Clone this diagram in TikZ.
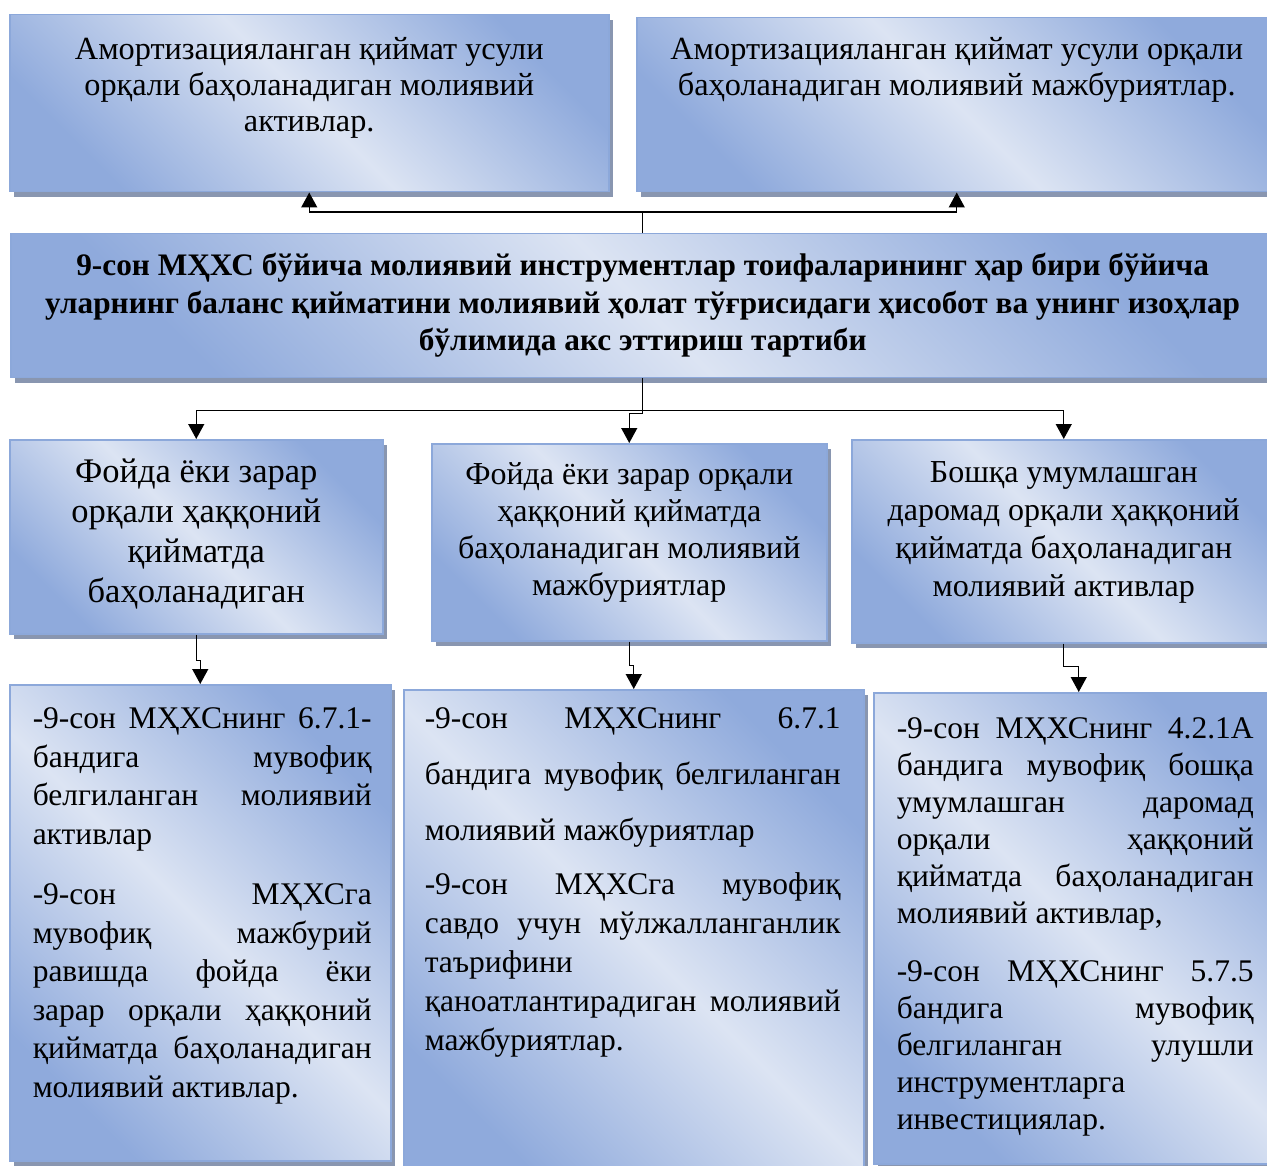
\documentclass[tikz,border=0pt]{standalone}
\usepackage{fontspec}
\setmainfont{Liberation Serif}
\usetikzlibrary{arrows.meta,positioning,shadows,calc}
\definecolor{boxdark}{RGB}{143,170,220}
\definecolor{boxlight}{RGB}{220,228,243}
\definecolor{boxedge}{RGB}{140,168,218}
\definecolor{shadowgray}{RGB}{137,150,176}
\newcommand{\boxbody}[3]{\begin{minipage}[t][#1][t]{#2}#3\end{minipage}}

\begin{document}
\begin{tikzpicture}[x=1pt,y=1pt]
    \tikzstyle{cbox}=[rectangle,draw=boxedge,line width=1.5pt,inner sep=0pt,%
    anchor=north west,top color=boxdark,bottom color=boxdark,%
    middle color=boxlight,shading angle=-45,%
    drop shadow={shadow xshift=4pt,shadow yshift=-5pt,fill=shadowgray,opacity=1}] %
    \tikzstyle{arr}=[-{Triangle[width=16pt,length=15pt]},line width=1.3pt] %
    \tikzstyle{jtext}=[font=\fontsize{31.5pt}{38.5pt}\selectfont] %

    \useasboundingbox (0,0) rectangle (1267,-1166);

    \node[cbox,font=\fontsize{32.3pt}{36pt}\selectfont] (amAsset) at (9,-14)
      {\boxbody{177pt}{599pt}{\centering\vspace*{19.8pt}\strut
        Амортизацияланган қиймат усули\\орқали баҳоланадиган молиявий\\активлар.}};
    \node[cbox,font=\fontsize{32.3pt}{36pt}\selectfont] (amLiab) at (636,-17)
      {\boxbody{174pt}{640pt}{\centering\vspace*{16.8pt}\strut
        Амортизацияланган қиймат усули орқали\\баҳоланадиган молиявий мажбуриятлар.}};

    \node[cbox,font=\fontsize{31.3pt}{37.5pt}\selectfont\bfseries] (bal) at (10,-233)
      {\boxbody{144pt}{1264pt}{\centering\vspace*{15.75pt}\strut
        9-сон МҲХС бўйича молиявий инструментлар тоифаларининг ҳар бири бўйича\\
        уларнинг баланс қийматини молиявий ҳолат тўғрисидаги ҳисобот ва унинг изоҳлар\\
        бўлимида акс эттириш тартиби}};

    \node[cbox,font=\fontsize{34.5pt}{40pt}\selectfont] (fvpAsset) at (9,-439)
      {\boxbody{194pt}{373pt}{\centering\vspace*{15pt}\strut
        Фойда ёки зарар\\орқали ҳаққоний\\қийматда\\баҳоланадиган}};
    \node[cbox,font=\fontsize{32pt}{37pt}\selectfont] (fvlLiab) at (431,-443)
      {\boxbody{197pt}{395pt}{\centering\vspace*{15.1pt}\strut
        Фойда ёки зарар орқали\\ҳаққоний қийматда\\баҳоланадиган молиявий\\мажбуриятлар}};
    \node[cbox,font=\fontsize{32pt}{38pt}\selectfont] (fvoAsset) at (851,-439)
      {\boxbody{203pt}{424pt}{\centering\vspace*{16.4pt}\strut
        Бошқа умумлашган\\даромад орқали ҳаққоний\\қийматда баҳоланадиган\\молиявий активлар}};

    \node[cbox,jtext] (fvpRule) at (9,-684)
      {\boxbody{476pt}{381pt}{\leftskip=23pt\rightskip=19pt\tolerance=10000%
        \hbadness=10000\hyphenpenalty=10000\vspace*{17pt}\strut
        -9-сон МҲХСнинг 6.7.1-\linebreak бандига мувофиқ\linebreak
        белгиланган молиявий\linebreak активлар\par\vspace{22pt}
        -9-сон МҲХСга\linebreak мувофиқ мажбурий\linebreak
        равишда фойда ёки\linebreak зарар орқали ҳаққоний\linebreak
        қийматда баҳоланадиган\linebreak молиявий активлар.\par}};
    \node[cbox,jtext] (fvlRule) at (403,-689)
      {\boxbody{495pt}{460pt}{\leftskip=21pt\rightskip=23pt\tolerance=10000%
        \hbadness=10000\hyphenpenalty=10000\baselineskip=56pt\vspace*{11.8pt}\strut
        -9-сон МҲХСнинг 6.7.1\linebreak бандига мувофиқ белгиланган\linebreak
        молиявий мажбуриятлар\par\baselineskip=39pt\vspace{15pt}
        -9-сон МҲХСга мувофиқ\linebreak савдо учун мўлжалланганлик\linebreak
        таърифини\newline қаноатлантирадиган молиявий\linebreak
        мажбуриятлар.\par}};
    \node[cbox,jtext] (fvoRule) at (873,-692)
      {\boxbody{471pt}{410pt}{\leftskip=23pt\rightskip=30pt\tolerance=10000%
        \hbadness=10000\hyphenpenalty=10000\baselineskip=37pt\vspace*{19pt}\strut
        -9-сон МҲХСнинг 4.2.1А\linebreak бандига мувофиқ бошқа\linebreak
        умумлашган даромад\linebreak орқали ҳаққоний\linebreak
        қийматда баҳоланадиган\linebreak молиявий активлар,\par\vspace{21pt}
        -9-сон МҲХСнинг 5.7.5\linebreak бандига мувофиқ\linebreak
        белгиланган улушли\linebreak инструментларга\newline
        инвестициялар.\par}};

    \draw[arr] (bal.north) -- ++(0,21) -| (amAsset.south);
    \draw[arr] (bal.north) -- ++(0,21) -| (amLiab.south);

    \path (bal.south) ++(0,-32) coordinate (busJ);
    \draw[arr] (bal.south) -- ++(0,-35) -| (fvlLiab.north);
    \draw[arr] (busJ) -| (fvpAsset.north);
    \draw[arr] (busJ) -| (fvoAsset.north);

    \draw[arr] (fvpAsset.south) -- ++(0,-26) -| (fvpRule.north);
    \draw[arr] (fvlLiab.south) -- ++(0,-24) -| (fvlRule.north);
    \draw[arr] (fvoAsset.south) -- ++(0,-23) -| (fvoRule.north);
\end{tikzpicture}
\end{document}
